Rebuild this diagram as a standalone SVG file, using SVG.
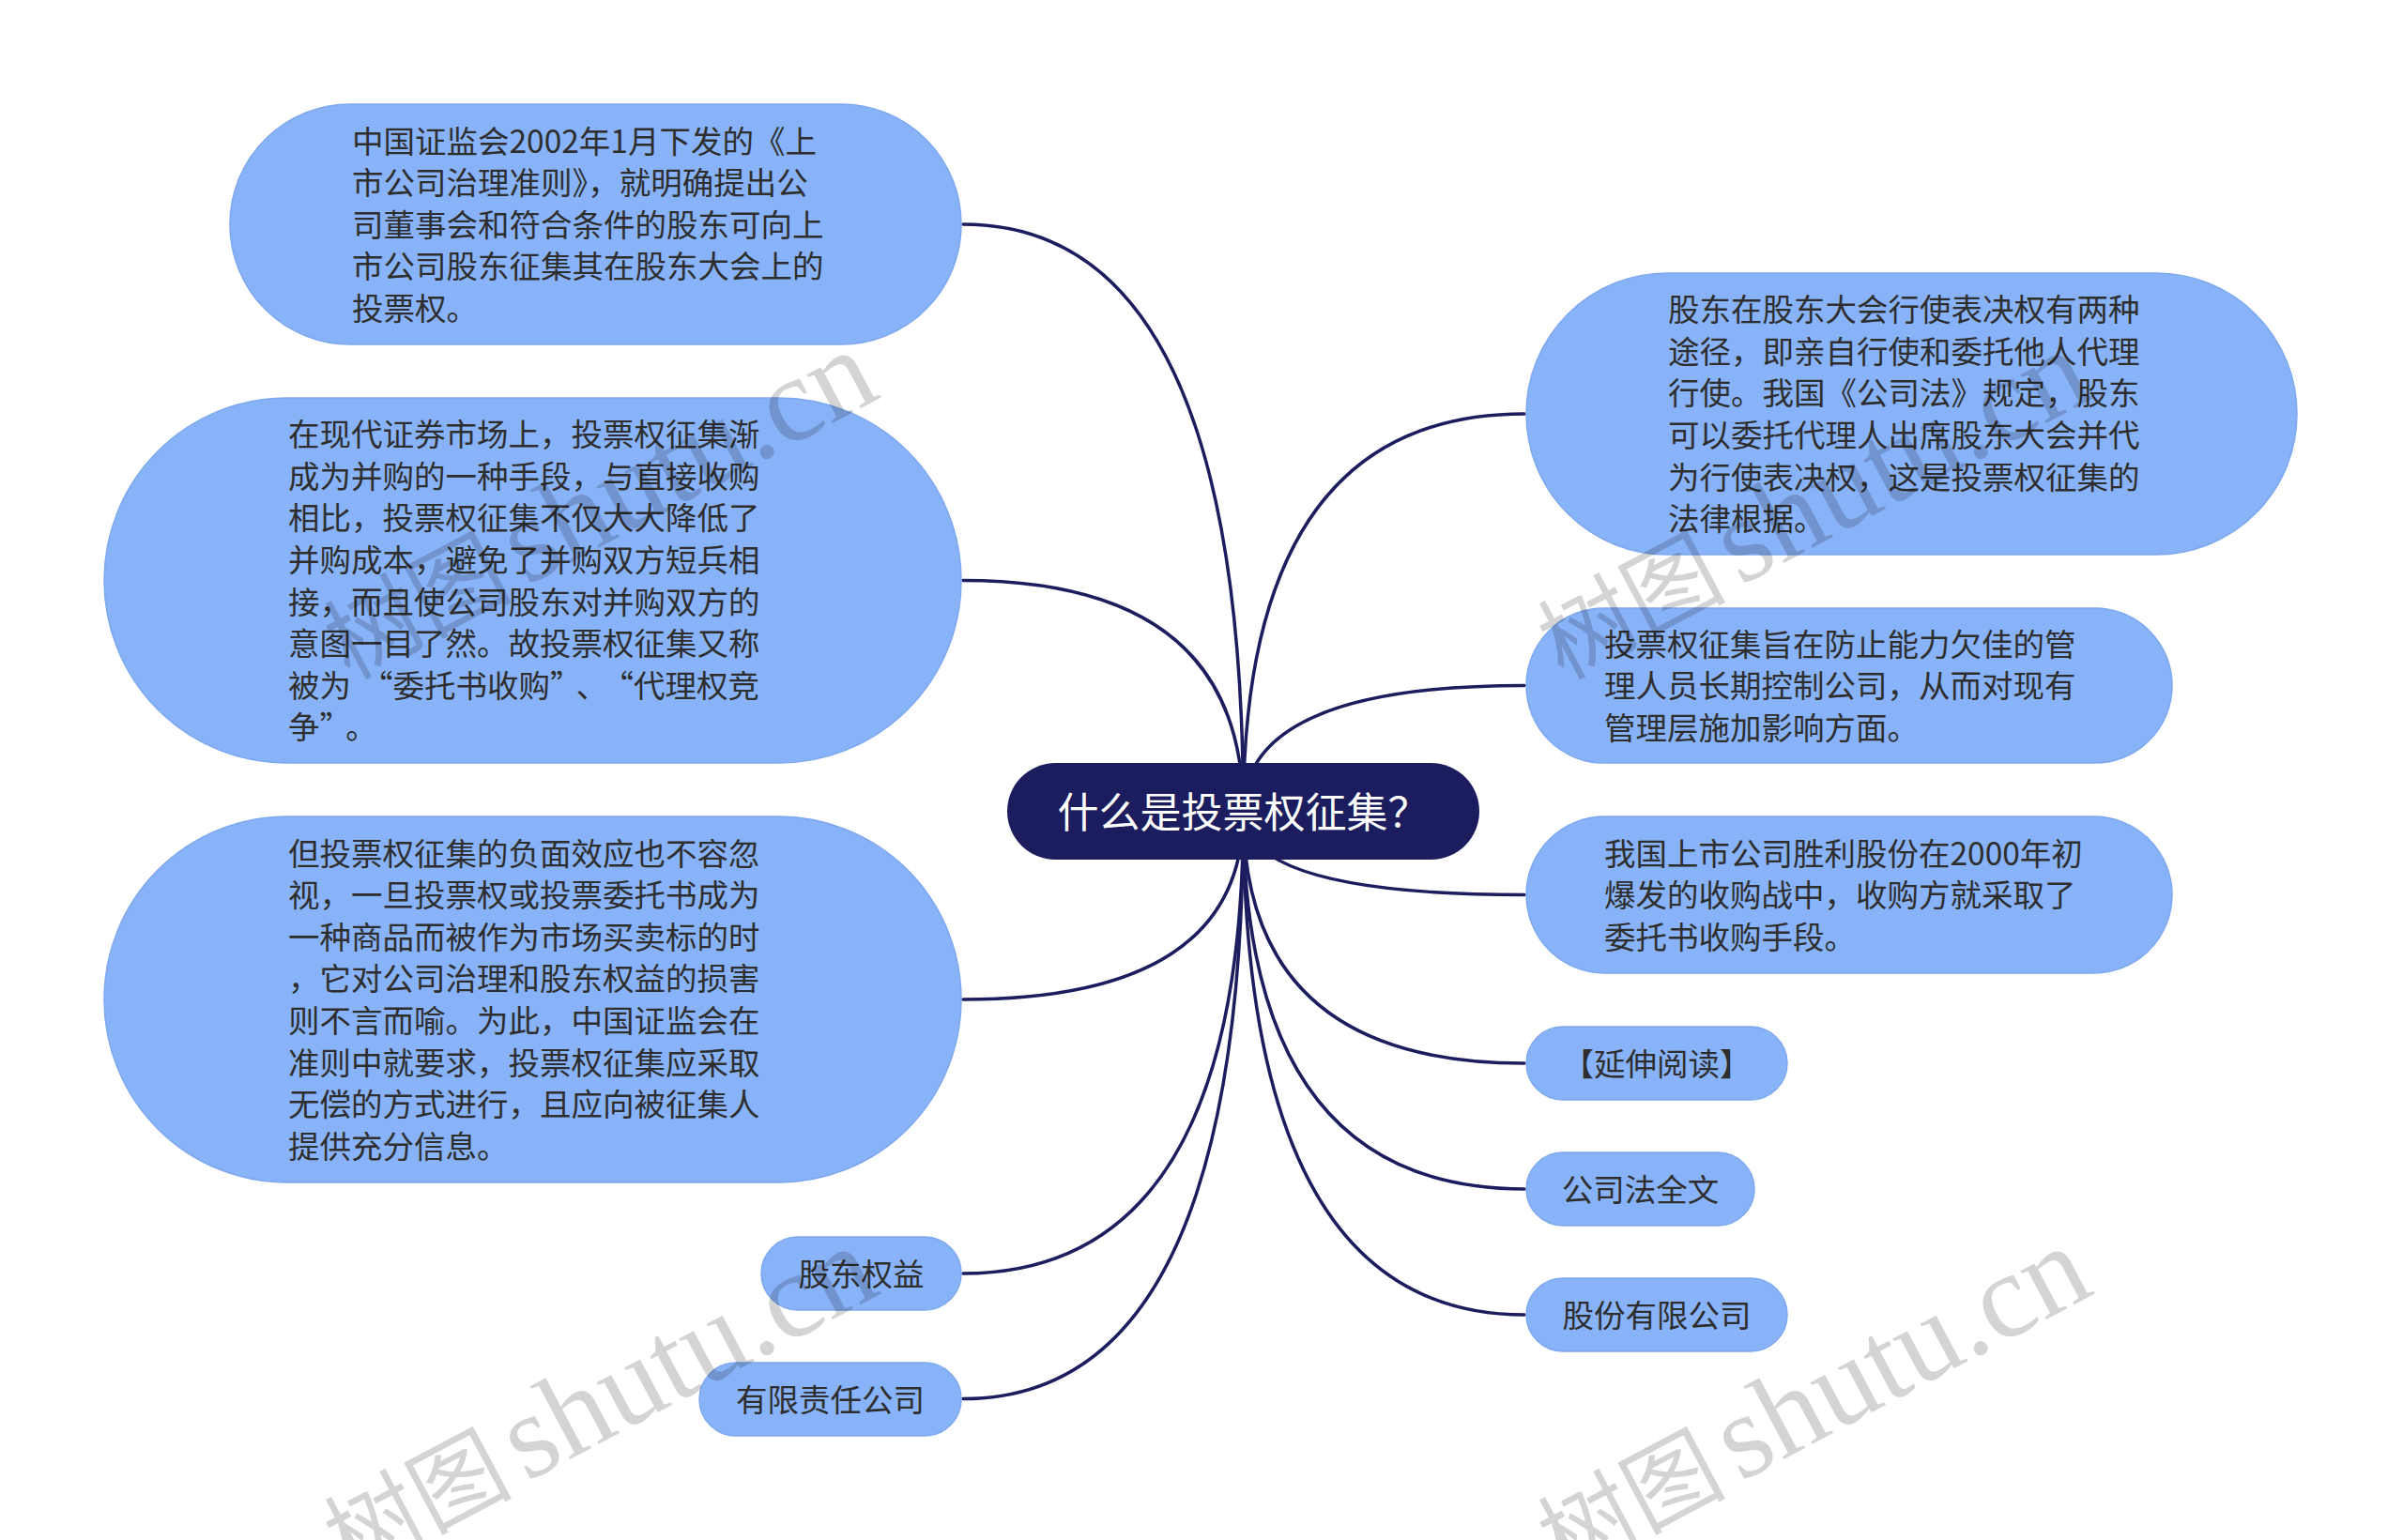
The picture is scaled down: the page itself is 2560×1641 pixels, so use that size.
<svg xmlns="http://www.w3.org/2000/svg" width="2560" height="1641" viewBox="0 0 2560 1641">
<style>
.bg{fill:#ffffff}
.conn{fill:none;stroke:#1c1d5e;stroke-width:3.5;stroke-linecap:round}
.box{fill:#88b3f9;stroke:#7ea8ee;stroke-width:1.5}
.root{fill:#1c1d5e}
.t{font-family:"Noto Sans CJK SC","Noto Sans",sans-serif;font-size:33.5px;fill:#2e2e2e}
.c{text-anchor:middle}
.rt{font-family:"Noto Sans CJK SC","Noto Sans",sans-serif;font-size:44px;fill:#ffffff;text-anchor:middle}
.wm{font-family:"Liberation Serif","Noto Sans CJK SC",serif;font-size:128px;fill:#000000;fill-opacity:0.17}
.wmc{font-family:"Noto Sans CJK SC",serif;font-size:100px}
</style>
<rect class="bg" x="0" y="0" width="2560" height="1641"/>
<g id="connectors">
<path class="conn" d="M1324.5 865 Q1324.5 239 1026 239"/>
<path class="conn" d="M1324.5 865 Q1324.5 618.5 1026 618.5"/>
<path class="conn" d="M1324.5 865 Q1324.5 1065 1026 1065"/>
<path class="conn" d="M1324.5 865 Q1324.5 1357 1026 1357"/>
<path class="conn" d="M1324.5 865 Q1324.5 1490.5 1026 1490.5"/>
<path class="conn" d="M1324.5 865 Q1324.5 441 1624 441"/>
<path class="conn" d="M1324.5 865 Q1324.5 730.5 1624 730.5"/>
<path class="conn" d="M1324.5 865 Q1324.5 953.5 1624 953.5"/>
<path class="conn" d="M1324.5 865 Q1324.5 1133 1624 1133"/>
<path class="conn" d="M1324.5 865 Q1324.5 1267 1624 1267"/>
<path class="conn" d="M1324.5 865 Q1324.5 1401 1624 1401"/>
</g>
<g id="root">
<rect class="root" x="1073" y="813" width="503" height="103" rx="51.5"/>
<text class="rt" x="1324.5" y="882">什么是投票权征集？</text>
</g>
<g id="left1">
<rect class="box" x="245" y="111" width="779" height="256" rx="128"/>
<text class="t"><tspan x="375" y="162.5">中国证监会2002年1月下发的《上</tspan><tspan x="375" y="207.1">市公司治理准则》，就明确提出公</tspan><tspan x="375" y="251.7">司董事会和符合条件的股东可向上</tspan><tspan x="375" y="296.3">市公司股东征集其在股东大会上的</tspan><tspan x="375" y="340.9">投票权。</tspan></text>
</g>
<g id="left2">
<rect class="box" x="111" y="424" width="913" height="389" rx="194.5"/>
<text class="t"><tspan x="307" y="475.1">在现代证券市场上，投票权征集渐</tspan><tspan x="307" y="519.7">成为并购的一种手段，与直接收购</tspan><tspan x="307" y="564.3">相比，投票权征集不仅大大降低了</tspan><tspan x="307" y="608.9">并购成本，避免了并购双方短兵相</tspan><tspan x="307" y="653.5">接，而且使公司股东对并购双方的</tspan><tspan x="307" y="698.1">意图一目了然。故投票权征集又称</tspan><tspan x="307" y="742.7">被为<tspan dx="11">“</tspan>委托书收购”<tspan dx="11">、</tspan><tspan dx="11">“</tspan>代理权竞</tspan><tspan x="307" y="787.3">争”<tspan dx="11">。</tspan></tspan></text>
</g>
<g id="left3">
<rect class="box" x="111" y="870" width="913" height="390" rx="195"/>
<text class="t"><tspan x="307" y="921.6">但投票权征集的负面效应也不容忽</tspan><tspan x="307" y="966.2">视，一旦投票权或投票委托书成为</tspan><tspan x="307" y="1010.8">一种商品而被作为市场买卖标的时</tspan><tspan x="307" y="1055.4">，它对公司治理和股东权益的损害</tspan><tspan x="307" y="1100">则不言而喻。为此，中国证监会在</tspan><tspan x="307" y="1144.6">准则中就要求，投票权征集应采取</tspan><tspan x="307" y="1189.2">无偿的方式进行，且应向被征集人</tspan><tspan x="307" y="1233.8">提供充分信息。</tspan></text>
</g>
<g id="left4">
<rect class="box" x="811" y="1318" width="213" height="78" rx="39"/>
<text class="t c" x="917.5" y="1369.7">股东权益</text>
</g>
<g id="left5">
<rect class="box" x="745" y="1452" width="279" height="78" rx="39"/>
<text class="t c" x="884.5" y="1503.7">有限责任公司</text>
</g>
<g id="right1">
<rect class="box" x="1626" y="291" width="821" height="300" rx="150"/>
<text class="t"><tspan x="1777" y="342.2">股东在股东大会行使表决权有两种</tspan><tspan x="1777" y="386.8">途径，即亲自行使和委托他人代理</tspan><tspan x="1777" y="431.4">行使。我国《公司法》规定，股东</tspan><tspan x="1777" y="476">可以委托代理人出席股东大会并代</tspan><tspan x="1777" y="520.6">为行使表决权，这是投票权征集的</tspan><tspan x="1777" y="565.2">法律根据。</tspan></text>
</g>
<g id="right2">
<rect class="box" x="1626" y="648" width="688" height="165" rx="82.5"/>
<text class="t"><tspan x="1709" y="698.6">投票权征集旨在防止能力欠佳的管</tspan><tspan x="1709" y="743.2">理人员长期控制公司，从而对现有</tspan><tspan x="1709" y="787.8">管理层施加影响方面。</tspan></text>
</g>
<g id="right3">
<rect class="box" x="1626" y="870" width="688" height="167" rx="83.5"/>
<text class="t"><tspan x="1709" y="921.6">我国上市公司胜利股份在2000年初</tspan><tspan x="1709" y="966.2">爆发的收购战中，收购方就采取了</tspan><tspan x="1709" y="1010.8">委托书收购手段。</tspan></text>
</g>
<g id="right4">
<rect class="box" x="1626" y="1094" width="278" height="78" rx="39"/>
<text class="t c" x="1765" y="1145.7">【延伸阅读】</text>
</g>
<g id="right5">
<rect class="box" x="1626" y="1228" width="243" height="78" rx="39"/>
<text class="t c" x="1747.5" y="1279.7">公司法全文</text>
</g>
<g id="right6">
<rect class="box" x="1626" y="1362" width="278" height="78" rx="39"/>
<text class="t c" x="1765" y="1413.7">股份有限公司</text>
</g>
<g id="watermarks">
<text class="wm" transform="translate(372 725) rotate(-28)"><tspan class="wmc">树图</tspan><tspan dx="14">shutu.cn</tspan></text>
<text class="wm" transform="translate(1665 725) rotate(-28)"><tspan class="wmc">树图</tspan><tspan dx="14">shutu.cn</tspan></text>
<text class="wm" transform="translate(372 1680) rotate(-28)"><tspan class="wmc">树图</tspan><tspan dx="14">shutu.cn</tspan></text>
<text class="wm" transform="translate(1665 1680) rotate(-28)"><tspan class="wmc">树图</tspan><tspan dx="14">shutu.cn</tspan></text>
</g>
</svg>
